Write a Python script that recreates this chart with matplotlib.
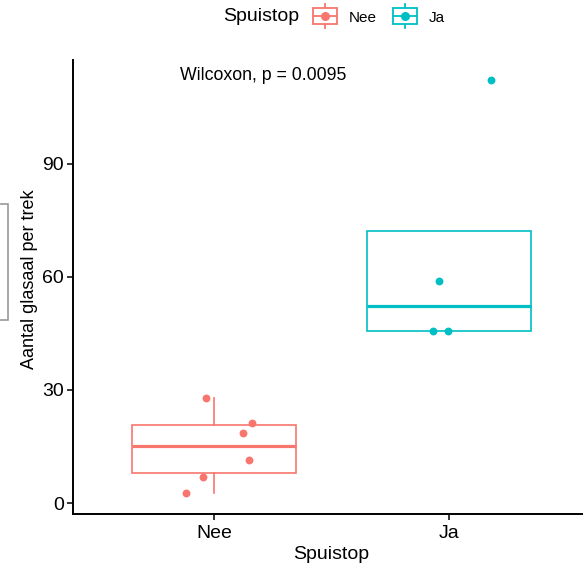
import matplotlib
matplotlib.use("Agg")
import matplotlib.pyplot as plt
from matplotlib.patches import Rectangle
from matplotlib.lines import Line2D
from matplotlib.legend_handler import HandlerBase
import numpy as np

plt.rcParams['font.family'] = ['Liberation Sans', 'DejaVu Sans']

categories = ["Nee", "Ja"]
colors = ["#F8766D", "#00BFC4"]
nee_values = [27.9, 21.3, 18.7, 11.3, 6.9, 2.6]
nee_jitter = [0.967, 1.161, 1.125, 1.147, 0.952, 0.882]
ja_values = [112.3, 58.9, 45.7, 45.7]
ja_jitter = [2.179, 1.957, 1.933, 1.997]
yticks = [0, 30, 60, 90]
pvalue_label = "Wilcoxon, p = 0.0095"

fig = plt.figure(figsize=(5.83, 5.67), dpi=100)
W, H = 583, 567
ax = fig.add_axes([73 / W, (H - 514) / H, (590 - 73) / W, (514 - 60) / H])

groups = [nee_values, ja_values]
jitters = [nee_jitter, ja_jitter]
for i, (vals, jit, col) in enumerate(zip(groups, jitters, colors)):
    pos = i + 1
    ax.boxplot([vals], positions=[pos], widths=0.7, showfliers=False,
               patch_artist=True,
               boxprops=dict(facecolor="white", edgecolor=col, linewidth=1.2),
               whiskerprops=dict(color=col, linewidth=1.2),
               capprops=dict(linewidth=0),
               medianprops=dict(color=col, linewidth=2.3),
               zorder=2)
    ax.scatter(jit, vals, s=32, color=col, zorder=3, linewidths=0)

ax.set_xlim(0.4, 2.6)
ax.set_ylim(-2.92, 117.6)
ax.set_xticks([1, 2])
ax.set_xticklabels(categories)
ax.set_yticks(yticks)
for s in ["top", "right"]:
    ax.spines[s].set_visible(False)
for s in ["left", "bottom"]:
    ax.spines[s].set_linewidth(1.4)
ax.tick_params(axis="both", length=4.5, width=1.1, labelsize=14, colors="black")
ax.tick_params(axis="x", pad=3.5)
ax.tick_params(axis="y", pad=2)

ax.set_xlabel("Spuistop", fontsize=14)
ax.set_ylabel("Aantal glasaal per trek", fontsize=13)
ax.yaxis.set_label_coords((38 - 73) / 517, (514 - 279) / 454)
ax.xaxis.set_label_coords(0.5, (514 - 546) / 454)

ax.text(0.857, 112.3, pvalue_label, ha="left", va="baseline", fontsize=12.8)

KEY_PT = 24 * 72 / 100  # key size in points (24 px)


class BoxHandler(HandlerBase):
    def create_artists(self, legend, orig_handle, xdescent, ydescent,
                       width, height, fontsize, trans):
        col = orig_handle.get_color()
        x0 = -xdescent
        cx = x0 + width / 2
        cy = -ydescent + (height + ydescent) / 2
        hw = KEY_PT / 2
        hb = KEY_PT * 0.32
        rect = Rectangle((cx - hw, cy - hb), 2 * hw, 2 * hb,
                         facecolor="white", edgecolor=col, linewidth=1.3,
                         transform=trans)
        v = Line2D([cx, cx], [cy - hw, cy + hw], color=col,
                   linewidth=1.3, transform=trans)
        hline = Line2D([cx - hw, cx + hw], [cy, cy], color=col,
                       linewidth=1.3, transform=trans)
        dot = Line2D([cx], [cy], marker="o",
                     markersize=5.5, color=col, linestyle="none", transform=trans)
        return [v, rect, hline, dot]


handles = [Line2D([], [], color=c) for c in colors]
leg = fig.legend(handles, categories, loc="upper left",
                 bbox_to_anchor=(313 / W, 1 - 10 / H), ncol=2, frameon=False,
                 fontsize=11, handlelength=KEY_PT / 11, handleheight=1.0,
                 handletextpad=0.75, columnspacing=1.1, borderpad=0,
                 borderaxespad=0, handler_map={Line2D: BoxHandler()})
fig.text(299 / W, 1 - 21 / H, "Spuistop", ha="right", va="baseline", fontsize=14)

fig.add_artist(Rectangle((-0.01, (H - 320) / H), (8 / W) + 0.01, (320 - 204) / H,
                         transform=fig.transFigure, fill=False,
                         edgecolor="#9a9a9a", linewidth=1.2))

fig.savefig("out.png", dpi=100)
